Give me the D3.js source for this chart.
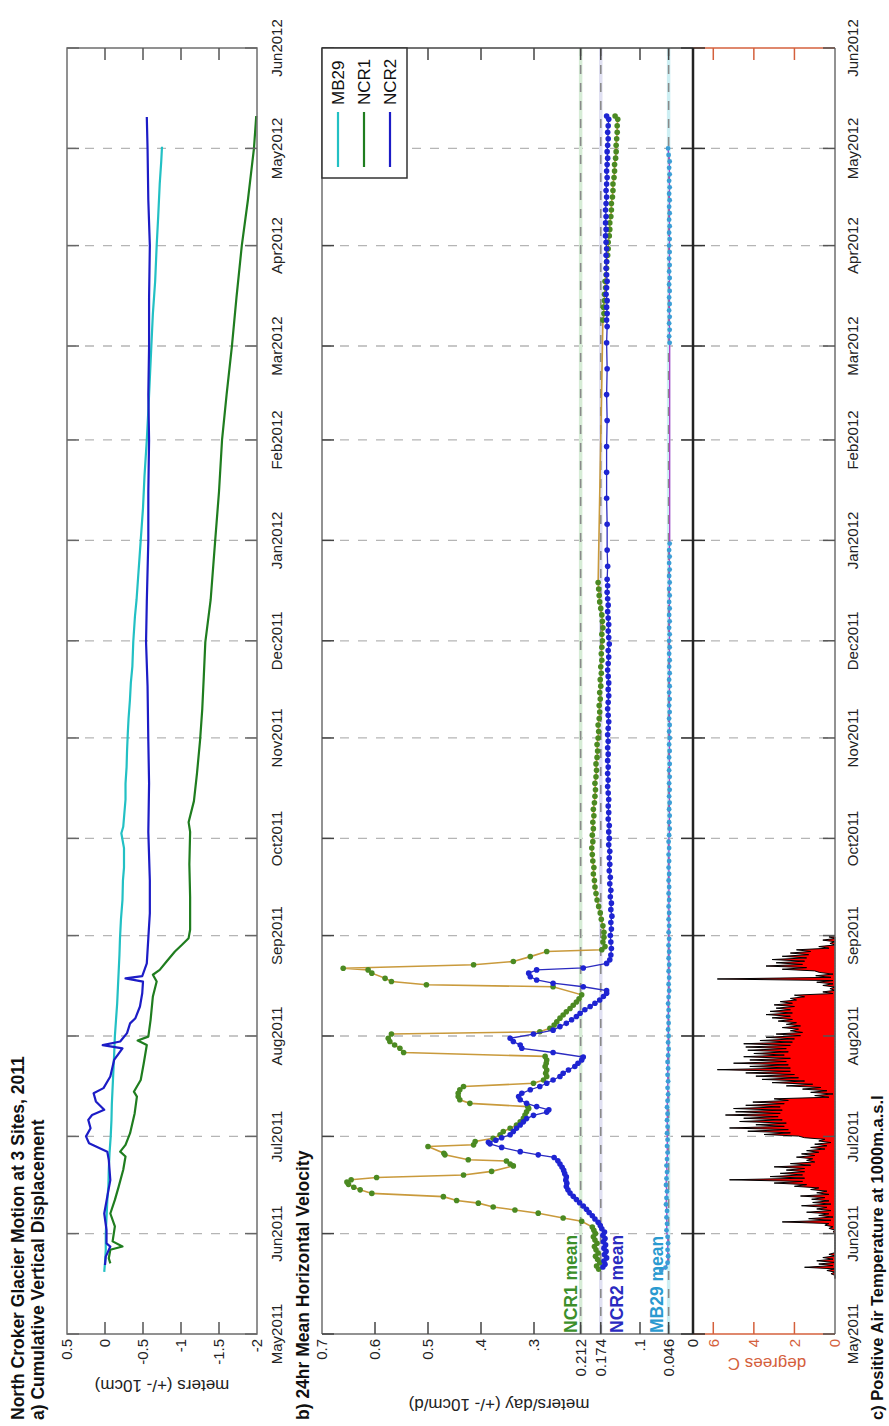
<!DOCTYPE html>
<html><head><meta charset="utf-8">
<script src="https://cdn.jsdelivr.net/npm/d3@7"></script>
<style>html,body{margin:0;padding:0;background:#fff;}svg{display:block;font-family:"Liberation Sans",Arial,sans-serif;}</style>
</head><body>
<svg id="c" width="889" height="1426"></svg>
<script>
// ---------------- DATA (day = days since 2011-05-01) ----------------
const monthTickLabels = ["May2011","Jun2011","Jul2011","Aug2011","Sep2011","Oct2011","Nov2011","Dec2011","Jan2012","Feb2012","Mar2012","Apr2012","May2012","Jun2012"];
const dispTicks = [-2,-1.5,-1,-0.5,0,0.5];
const dispTickLabels = ["-2","-1.5","-1","-0.5","0","0.5"];
const velTicks = [0,0.046,0.1,0.174,0.212,0.3,0.4,0.5,0.6,0.7];
const velTickLabels = ["0","0.046",".1","0.174","0.212",".3",".4","0.5","0.6","0.7"];
const tempTicks = [0,2,4,6];
const meanNames = ["NCR1 mean","NCR2 mean","MB29 mean"];
const meanValues = [0.212,0.174,0.046];
const siteNames = ["MB29","NCR1","NCR2"];

// a) cumulative vertical displacement (m)
const dispMB29 = [[19.2,0.01],[22,0.0],[26,-0.01],[31,-0.01],[36,-0.02],[41,-0.03],[46,-0.045],[51,-0.05],[56,-0.06],[61,-0.075],[66,-0.085],[71,-0.09],[76,-0.10],[81,-0.11],[86,-0.12],[92,-0.13],[97,-0.145],[102,-0.16],[107,-0.17],[112,-0.18],[117,-0.19],[122,-0.197],[128,-0.21],[134,-0.23],[140,-0.236],[144,-0.25],[150,-0.25],[154.6,-0.215],[156.6,-0.24],[165,-0.27],[170,-0.27],[175,-0.284],[180,-0.29],[185.5,-0.30],[190,-0.31],[195.7,-0.328],[201,-0.34],[206,-0.36],[213.7,-0.372],[221.5,-0.394],[226.6,-0.415],[235,-0.44],[245,-0.47],[255,-0.50],[265,-0.52],[276,-0.55],[285,-0.57],[295,-0.59],[305,-0.61],[315,-0.63],[325,-0.66],[336,-0.68],[345,-0.70],[355,-0.72],[362,-0.74],[366.5,-0.75]];
const dispNCR1 = [[21.8,-0.07],[23.4,-0.05],[26,-0.07],[27,-0.23],[28.6,-0.10],[33.2,-0.13],[37.2,-0.07],[41.4,-0.13],[45.5,-0.18],[50.7,-0.24],[54.8,-0.27],[56.3,-0.20],[58.4,-0.27],[62,-0.33],[68.1,-0.39],[73.3,-0.42],[74.8,-0.38],[78.4,-0.47],[83.6,-0.51],[89.2,-0.55],[90.6,-0.43],[91.8,-0.57],[97,-0.60],[104.2,-0.63],[108.8,-0.68],[110.9,-0.63],[112.4,-0.72],[115,-0.81],[118.1,-0.92],[120.1,-1.01],[122.2,-1.10],[124.8,-1.12],[135,-1.12],[145,-1.11],[155,-1.12],[158,-1.10],[164.5,-1.17],[173,-1.21],[183,-1.25],[193,-1.28],[203,-1.30],[213.6,-1.32],[226.6,-1.39],[245,-1.45],[260,-1.50],[276,-1.54],[290,-1.60],[305,-1.67],[320,-1.73],[336,-1.80],[350,-1.88],[366,-1.96],[376,-1.99]];
const dispNCR2 = [[21.3,0.0],[23.9,-0.01],[27,-0.07],[28,-0.02],[32.1,-0.02],[37.2,0.01],[42.4,-0.03],[47.5,-0.07],[53.7,-0.05],[56.3,-0.03],[58.9,0.21],[61,0.25],[63.5,0.19],[66.1,0.22],[67.6,0.17],[69.2,0.01],[71.8,0.12],[74.3,0.15],[75.9,0.02],[79.5,-0.07],[84.6,-0.12],[88.2,-0.23],[89.2,0.03],[90.3,-0.20],[92.9,-0.29],[95.9,-0.33],[97.5,-0.40],[101.1,-0.46],[105.2,-0.49],[108.8,-0.50],[109.8,-0.27],[110.5,-0.49],[114.4,-0.55],[122.2,-0.57],[129.9,-0.59],[140,-0.59],[155,-0.57],[170,-0.58],[183,-0.57],[200,-0.56],[213.6,-0.54],[226,-0.55],[245,-0.57],[260,-0.57],[276,-0.58],[290,-0.57],[305,-0.58],[320,-0.58],[336,-0.59],[350,-0.57],[366,-0.56],[375.7,-0.55]];

// b) 24 hr mean horizontal velocity (m/day)
const velNCR1 = [[20,0.178],[21,0.182],[22,0.176],[23,0.180],[24,0.184],[25,0.179],[26,0.183],[27,0.186],[28,0.181],[29,0.185],[30,0.188],[31,0.184],[32,0.187],[33,0.190],[34.8,0.210],[35.8,0.245],[37.3,0.292],[38.3,0.336],[39.2,0.377],[40.4,0.405],[41.2,0.446],[42.4,0.471],[43.4,0.606],[44.5,0.628],[45.3,0.640],[46.2,0.650],[46.9,0.653],[47.6,0.645],[48.3,0.597],[49.1,0.433],[50.2,0.380],[51.9,0.339],[52.5,0.345],[53.4,0.352],[53.8,0.424],[55.3,0.468],[55.8,0.470],[57.9,0.500],[58.4,0.414],[59.4,0.411],[60.4,0.377],[61.5,0.364],[62.5,0.358],[63.5,0.345],[64.5,0.333],[65.5,0.326],[66.6,0.320],[67.6,0.317],[68.6,0.314],[69.6,0.310],[70.2,0.312],[71.2,0.421],[72.3,0.440],[73.3,0.443],[74.3,0.443],[75.4,0.440],[76.4,0.433],[77.4,0.301],[78.4,0.282],[79.5,0.276],[80.5,0.278],[81.5,0.276],[82.6,0.279],[83.6,0.277],[84.6,0.276],[85.7,0.279],[86.9,0.546],[88.2,0.553],[89.2,0.563],[90.3,0.572],[91.3,0.575],[92.6,0.569],[93.3,0.289],[94.4,0.270],[95.4,0.262],[96.4,0.257],[97.5,0.251],[98.5,0.245],[99.5,0.239],[100.5,0.232],[101.5,0.226],[102.5,0.220],[103.5,0.215],[104.7,0.210],[107.2,0.264],[107.8,0.503],[108.8,0.569],[109.8,0.581],[111.4,0.606],[112.4,0.613],[112.9,0.660],[114.0,0.414],[115.0,0.339],[116.5,0.307],[118.1,0.276],[118.6,0.172],[119.6,0.166],[121,0.170],[122.5,0.168],
[124,0.168],[126,0.170],[128,0.173],[130,0.175],[132,0.178],[134,0.181],[136,0.183],[138,0.185],[140,0.186],[142,0.188],[144,0.187],[146,0.189],[148,0.190],[150,0.191],[152,0.189],[154,0.190],[156,0.188],[158,0.189],[160,0.187],[162,0.188],[164,0.186],[166,0.185],[168,0.184],[170,0.185],[172,0.183],[174,0.182],[176,0.183],[178,0.181],[180,0.180],[182,0.181],[184,0.179],[186,0.178],[188,0.179],[190,0.177],[192,0.176],[194,0.177],[196,0.175],[198,0.176],[200,0.174],[202,0.175],[204,0.173],[206,0.174],[208,0.172],[210,0.173],[212,0.172],[214,0.171],[216,0.172],[218,0.170],[220,0.171],[222,0.172],[224,0.174],[226,0.176],[228,0.177],[230,0.178],[232,0.179],
[313,0.170],[315,0.168],[317,0.169],[319,0.167],[321,0.167],[323,0.165],[325,0.166],[327,0.164],[329,0.163],[331,0.163],[333,0.161],[335,0.160],[337,0.160],[339,0.158],[341,0.157],[343,0.157],[345,0.155],[347,0.154],[349,0.154],[351,0.152],[353,0.151],[355,0.151],[357,0.149],[359,0.148],[361,0.148],[363,0.146],[365,0.145],[367,0.145],[369,0.144],[371,0.143],[373,0.143],[375,0.142],[376,0.147]];
const velNCR2 = [[20.7,0.170],[21.5,0.166],[22.5,0.168],[23.5,0.163],[24.5,0.167],[25.5,0.164],[26.5,0.168],[27.5,0.165],[28.5,0.169],[29.5,0.166],[30.5,0.170],[31.5,0.167],[32.5,0.172],[33.5,0.175],[34.5,0.179],[35.5,0.185],[36.5,0.190],[37.5,0.196],[38.5,0.201],[39.5,0.207],[40.5,0.214],[41.5,0.220],[42.5,0.226],[43.5,0.232],[44.5,0.236],[45.5,0.239],[46.5,0.238],[47.5,0.240],[48.5,0.239],[49.5,0.242],[50.5,0.244],[51.5,0.247],[52.5,0.251],[53.5,0.255],[54.5,0.262],[55.3,0.292],[56.3,0.326],[57.6,0.361],[58.7,0.383],[59.2,0.386],[59.8,0.372],[60.6,0.361],[61.5,0.345],[62.5,0.339],[63.5,0.333],[64.5,0.326],[65.5,0.320],[66.5,0.314],[67.5,0.301],[68.5,0.276],[69.2,0.272],[70.2,0.295],[71.2,0.314],[72.3,0.326],[73.3,0.329],[74.3,0.323],[75.4,0.307],[76.4,0.289],[77.4,0.276],[78.4,0.264],[79.5,0.251],[80.5,0.245],[81.5,0.235],[82.6,0.223],[83.6,0.217],[84.6,0.210],[85.5,0.207],[86.9,0.264],[88.2,0.323],[89.2,0.326],[90.3,0.339],[91.3,0.345],[92.6,0.301],[93.8,0.264],[94.9,0.251],[95.9,0.239],[97.0,0.229],[98.0,0.220],[99.0,0.213],[100.1,0.204],[101.1,0.194],[102.1,0.185],[103.1,0.176],[104.2,0.169],[105.2,0.163],[106.0,0.163],[107.2,0.207],[108.3,0.264],[109.3,0.295],[110.3,0.307],[111.4,0.310],[112.4,0.295],[113.0,0.207],[114.4,0.163],[115.5,0.157],[117,0.155],[119,0.154],[121,0.155],
[123,0.156],[125,0.154],[127,0.155],[129,0.153],[131,0.155],[133,0.154],[135,0.156],[137,0.155],[139,0.157],[141,0.156],[143,0.158],[145,0.157],[147,0.158],[149,0.157],[151,0.159],[153,0.158],[155,0.159],[157,0.158],[159,0.160],[161,0.159],[163,0.160],[165,0.159],[167,0.160],[169,0.161],[171,0.160],[173,0.161],[175,0.160],[177,0.161],[179,0.160],[181,0.161],[183,0.160],[185,0.161],[187,0.160],[189,0.159],[191,0.160],[193,0.161],[195,0.160],[197,0.159],[199,0.160],[201,0.159],[203,0.160],[205,0.161],[207,0.160],[209,0.159],[211,0.160],[213,0.158],[215,0.159],[217,0.160],[219,0.159],[221,0.160],[223,0.161],[225,0.160],[227,0.161],[229,0.162],[231,0.161],[233,0.162],[237,0.161],[242,0.162],[250,0.162],[258,0.163],[266,0.163],[274,0.163],[282,0.162],[290,0.163],[298,0.162],[306,0.163],[311,0.162],[313,0.163],[315,0.162],[317,0.163],[319,0.162],[321,0.164],[323,0.163],[325,0.162],[327,0.163],[329,0.164],[331,0.163],[333,0.164],[335,0.163],[337,0.164],[339,0.165],[341,0.164],[343,0.165],[345,0.164],[347,0.165],[349,0.164],[351,0.163],[353,0.164],[355,0.163],[357,0.162],[359,0.163],[361,0.162],[363,0.161],[365,0.162],[367,0.161],[369,0.160],[371,0.161],[373,0.160],[375,0.159],[376,0.163]];
const velMB29 = [[19.5,0.060],[20.5,0.052],[22,0.048],[24,0.047],[26,0.048],[28,0.047],[30,0.048],[32,0.050],[34,0.049],[36,0.050],[38,0.049],[40,0.051],[42,0.050],[44,0.049],[46,0.051],[48,0.050],[50,0.049],[52,0.050],[54,0.049],[56,0.048],[58,0.049],[60,0.048],[62,0.049],[64,0.048],[66,0.049],[68,0.048],[70,0.049],[72,0.048],[74,0.047],[76,0.048],[78,0.047],[80,0.048],[82,0.047],[84,0.048],[86,0.047],[88,0.046],[90,0.047],[92,0.046],[94,0.047],[96,0.046],[98,0.047],[100,0.046],[102,0.047],[104,0.046],[106,0.045],[108,0.046],[110,0.045],[112,0.046],[114,0.045],[116,0.046],[118,0.045],[120,0.046],[122,0.045],[124,0.046],[126,0.045],[128,0.046],[130,0.045],[132,0.046],[134,0.045],[136,0.046],[138,0.045],[140,0.046],[142,0.045],[144,0.046],[146,0.045],[148,0.046],[150,0.045],[152,0.046],[154,0.045],[156,0.044],[158,0.045],[160,0.044],[162,0.045],[164,0.044],[166,0.045],[168,0.044],[170,0.045],[172,0.044],[174,0.045],[176,0.044],[178,0.045],[180,0.044],[182,0.045],[184,0.044],[186,0.045],[188,0.044],[190,0.045],[192,0.044],[194,0.045],[196,0.044],[198,0.045],[200,0.044],[202,0.045],[204,0.044],[206,0.045],[208,0.044],[210,0.045],[212,0.044],[214,0.045],[216,0.044],[218,0.045],[220,0.044],[222,0.045],[224,0.044],[226,0.045],[228,0.044],[230,0.045],[232,0.044],[234,0.045],[236,0.044],[238,0.045],[240,0.044],[242,0.045],[244,0.044],[306,0.044],[308,0.045],[310,0.044],[312,0.045],[314,0.044],[316,0.045],[318,0.044],[320,0.045],[322,0.044],[324,0.045],[326,0.044],[328,0.045],[330,0.044],[332,0.045],[334,0.044],[336,0.045],[338,0.044],[340,0.045],[342,0.044],[344,0.045],[346,0.044],[348,0.045],[350,0.044],[352,0.045],[354,0.044],[356,0.045],[358,0.044],[360,0.045],[362,0.044],[364,0.046],[366,0.047]];

// c) positive air temperature (deg C), daily night low / afternoon high from day 17
const tempStartDay = 17;
const tempLow  = [0,0,0,0,0.1,0,0.1,0,0,0,0,0,0,0,0,0,0.1,0.3,0.2,0.1,0.3,0.2,0.4,0.2,0.3,0.5,0.3,0.4,0.8,1.4,1.6,1.5,1.6,1.5,1.5,1.2,1.0,1.1,1.0,0.8,0.5,0.4,0.2,0.5,1.8,2.2,2.3,2.5,2.4,2.6,2.8,2.7,2.6,2.7,2.5,2.3,0.3,0.1,0.4,0.7,1.1,1.5,1.8,2.0,2.2,2.2,2.3,2.4,2.2,2.5,2.3,2.4,2.2,2.1,2.0,1.7,1.6,1.8,1.7,1.9,2.1,2.2,2.1,2.2,2.0,2.1,1.9,1.5,0.1,0,0,0.1,0.1,0.2,0.1,1.0,1.4,1.6,1.5,1.4,1.3,1.2,0.3,0,0,0];
const tempHigh = [0,0.2,0.4,1.5,0.8,0.9,0.6,0.3,0,0,0,0,0,0,0.1,0.3,0.5,2.6,1.3,0.8,1.4,0.9,1.65,1.1,1.15,1.7,0.9,1.2,2.0,3.0,5.2,3.2,2.7,2.4,3.0,2.2,1.4,1.9,1.65,1.4,1.2,1.0,0.8,1.5,3.5,4.3,5.2,3.9,4.7,4.5,5.4,4.9,5.0,4.4,4.05,3.0,1.0,1.2,1.6,2.4,3.1,3.6,3.9,4.4,5.8,4.2,5.0,4.2,4.5,4.0,4.3,4.4,4.5,3.7,3.4,2.9,2.2,2.6,2.4,2.8,3.1,3.4,3.2,2.9,3.0,2.7,2.2,2.0,0.6,0.25,0.6,0.9,5.8,0.95,0.75,2.6,3.4,2.9,3.1,2.6,2.2,1.9,0.8,0.25,0.6,0.3];

// ---------------- CHART ----------------
const svg = d3.select("#c");
const g = svg.append("g").attr("transform","translate(0,1426) rotate(-90)");
const T0 = Date.UTC(2011,4,1);
const day = d => new Date(T0 + d*864e5);
const x = d3.scaleUtc().domain([new Date(Date.UTC(2011,4,1)), new Date(Date.UTC(2012,5,1))]).range([92,1378]);
const months = d3.utcMonth.range(new Date(Date.UTC(2011,4,1)), new Date(Date.UTC(2012,5,2)));
const X0 = 92, X1 = 1378;
const panels = {a:[67,257], b:[322,693], c:[693,835]};
const ya = d3.scaleLinear().domain([-2,0.5]).range([257,67]);
const yb = d3.scaleLinear().domain([0,0.7]).range([693,322]);
const yc = d3.scaleLinear().domain([0,7]).range([835,693]);
const TL = 12, FS = 15;
const axisCol = "#6e6e6e", orange = "#d4603c";

function monthGrid(p, col){
  const [t,b] = panels[p];
  g.append("g").selectAll("line").data(months.slice(1,-1)).join("line")
    .attr("x1",d=>x(d)).attr("x2",d=>x(d)).attr("y1",t).attr("y2",b)
    .attr("stroke",col||"#b5b5b5").attr("stroke-width",1.3).attr("stroke-dasharray","9,9");
}
function monthTicks(yv, dir, col){
  g.append("g").selectAll("line").data(months).join("line")
    .attr("x1",d=>x(d)).attr("x2",d=>x(d)).attr("y1",yv).attr("y2",yv+dir*TL)
    .attr("stroke",col||"#555").attr("stroke-width",1.5);
}
function monthLabels(yv){
  g.append("g").selectAll("text").data(months).join("text")
    .attr("x",d=>x(d)).attr("y",yv).attr("text-anchor","middle")
    .attr("font-size",FS).attr("fill","#222").text((d,i)=>monthTickLabels[i]);
}
function valueTicks(scale, vals, labels, col, skipEdges){
  const sel = vals.filter(v=>!(skipEdges && (v===scale.domain()[0]||v===scale.domain()[1])));
  const gg = g.append("g");
  gg.selectAll("line.l").data(sel).join("line").attr("class","l")
    .attr("x1",X0).attr("x2",X0+TL).attr("y1",d=>scale(d)).attr("y2",d=>scale(d))
    .attr("stroke",col).attr("stroke-width",1.5);
  gg.selectAll("line.r").data(sel).join("line").attr("class","r")
    .attr("x1",X1).attr("x2",X1-TL).attr("y1",d=>scale(d)).attr("y2",d=>scale(d))
    .attr("stroke",col).attr("stroke-width",1.5);
  gg.selectAll("text").data(vals).join("text")
    .attr("x",X0-5).attr("y",d=>scale(d)).attr("dy","0.35em").attr("text-anchor","end")
    .attr("font-size",FS).attr("fill",col===orange?orange:"#222").text((d,i)=>labels[i]);
}
function yLabel(txt, gx, gy, col){
  g.append("text").attr("transform",`translate(${gx},${gy}) rotate(-90)`).attr("text-anchor","middle").attr("dy","0.35em")
    .attr("font-size",17).attr("fill",col).text(txt);
}

// ----- Panel a -----
monthGrid("a");
const lineA = d3.line().x(d=>x(day(d[0]))).y(d=>ya(d[1]));
[[dispMB29,"#22c0c4"],[dispNCR1,"#1f7d1f"],[dispNCR2,"#1c1cc6"]].forEach(([data,c])=>{
  g.append("path").datum(data).attr("d",lineA).attr("fill","none").attr("stroke",c).attr("stroke-width",2.2).attr("stroke-linejoin","round");
});
g.append("rect").attr("x",X0).attr("y",67).attr("width",X1-X0).attr("height",190).attr("fill","none").attr("stroke",axisCol).attr("stroke-width",1.5);
monthTicks(257,-1,"#666"); monthTicks(67,1,"#666");
valueTicks(ya, dispTicks, dispTickLabels, "#555", true);
monthLabels(282);
yLabel("meters (+/- 10cm)", 40, 162, "#222");

// ----- Panel b -----
monthGrid("b");
const meanCols = ["#3c8f2a","#2a2ac0","#2a9ad0"];
const haloCols = ["#d6ecd6","#e0e0f2","#cdeff3"];
meanValues.forEach((v,i)=>{
  g.append("line").attr("x1",X0).attr("x2",X1).attr("y1",yb(v)).attr("y2",yb(v)).attr("stroke",haloCols[i]).attr("stroke-width",3.5);
  g.append("line").attr("x1",X0).attr("x2",X1).attr("y1",yb(v)).attr("y2",yb(v)).attr("stroke","#8a8a8a").attr("stroke-width",1.6).attr("stroke-dasharray","9,9");
});
const lineB = d3.line().x(d=>x(day(d[0]))).y(d=>yb(d[1]));
function velSeries(data, lineCol, dotCol, r, lw){
  g.append("path").datum(data).attr("d",lineB).attr("fill","none").attr("stroke",lineCol).attr("stroke-width",lw);
  g.append("g").selectAll("circle").data(data).join("circle")
    .attr("cx",d=>x(day(d[0]))).attr("cy",d=>yb(d[1])).attr("r",r).attr("fill",dotCol);
}
velSeries(velMB29,"#b040c8","#3a9ed6",2.4,1.3);
velSeries(velNCR1,"#c99a3c","#4b8a22",2.8,1.6);
velSeries(velNCR2,"#2b2bc0","#1e24d2",2.8,1.3);
// mean labels
const meanLabelPos = [[93,577],[93,623],[93,663]];
meanNames.forEach((n,i)=>{
  g.append("text").attr("x",meanLabelPos[i][0]).attr("y",meanLabelPos[i][1]).attr("font-size",17.5).attr("font-weight","bold").attr("fill",meanCols[i]).text(n);
});
g.append("line").attr("x1",X0).attr("x2",X1).attr("y1",322).attr("y2",322).attr("stroke",axisCol).attr("stroke-width",1.5);
g.append("line").attr("x1",X0).attr("x2",X0).attr("y1",322).attr("y2",693).attr("stroke",axisCol).attr("stroke-width",1.5);
g.append("line").attr("x1",X1).attr("x2",X1).attr("y1",322).attr("y2",693).attr("stroke","#444").attr("stroke-width",1.5);
monthTicks(322,1,"#444");
valueTicks(yb, velTicks, velTickLabels, "#444", true);
yLabel("meters/day (+/- 10cm/d)", 21, 499, "#222");
// legend
const lg = g.append("g");
lg.append("rect").attr("x",1248).attr("y",322).attr("width",130).attr("height",85).attr("fill","#fff").attr("stroke","#333").attr("stroke-width",1.5);
const legCols = ["#22c0c4","#1f7d1f","#1c1cc6"];
siteNames.forEach((n,i)=>{
  const yy = 338 + i*26;
  lg.append("line").attr("x1",1259).attr("x2",1314).attr("y1",yy).attr("y2",yy).attr("stroke",legCols[i]).attr("stroke-width",2.2);
  lg.append("text").attr("x",1321).attr("y",yy).attr("dy","0.36em").attr("font-size",17).attr("fill","#111").text(n);
});

// ----- Panel c -----
monthGrid("c");
const tpts = [];
tempLow.forEach((v,i)=>{ const d = tempStartDay+i; tpts.push({d:d+0.1, v:v}); tpts.push({d:d+0.6, v:tempHigh[i]}); });
const areaC = d3.area().x(d=>x(day(d.d))).y0(yc(0)).y1(d=>yc(d.v));
g.append("path").datum(tpts).attr("d",areaC).attr("fill","#ff0000").attr("stroke","#000").attr("stroke-width",1).attr("stroke-linejoin","miter");
g.append("line").attr("x1",X0).attr("x2",X0).attr("y1",693).attr("y2",835).attr("stroke",orange).attr("stroke-width",1.5);
g.append("line").attr("x1",X1).attr("x2",X1).attr("y1",693).attr("y2",835).attr("stroke",orange).attr("stroke-width",1.5);
g.append("line").attr("x1",X0).attr("x2",X1).attr("y1",835).attr("y2",835).attr("stroke",axisCol).attr("stroke-width",1.5);
monthTicks(835,-1,"#555"); monthTicks(693,1,"#333"); monthTicks(693,-1,"#333");
valueTicks(yc, tempTicks, tempTicks.map(String), orange, true);
yLabel("degrees C", 62, 767, orange);
g.append("line").attr("x1",X0).attr("x2",X1).attr("y1",693).attr("y2",693).attr("stroke","#222").attr("stroke-width",2.5);
monthLabels(858);

// ----- Titles -----
const titles = [["North Croker Glacier Motion at 3 Sites, 2011",6,24,17.5],["a) Cumulative Vertical Displacement",6,44,17.5],["b) 24hr Mean Horizontal Velocity",6,309,17.5],["c) Positive Air Temperature at 1000m.a.s.l",6,883,16.5]];
titles.forEach(([t,xx,yy,fs])=>g.append("text").attr("x",xx).attr("y",yy).attr("font-size",fs).attr("font-weight","bold").attr("fill","#111").text(t));
</script>
</body></html>
